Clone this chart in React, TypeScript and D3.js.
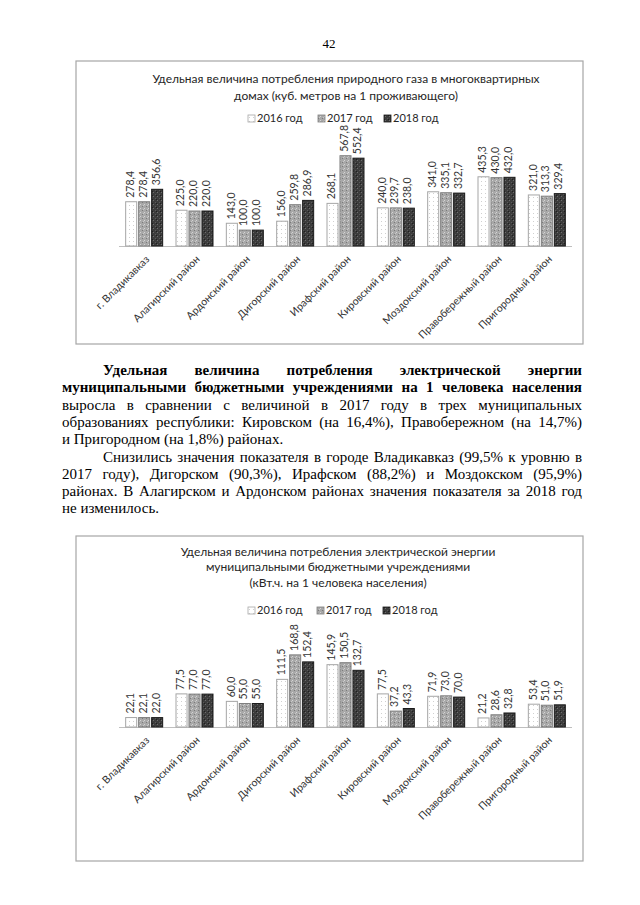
import React from "react";
import * as d3 from "d3";

const categories = [
  "г. Владикавказ",
  "Алагирский район",
  "Ардонский район",
  "Дигорский район",
  "Ирафский район",
  "Кировский район",
  "Моздокский район",
  "Правобережный район",
  "Пригородный район",
];
const seriesNames = ["2016 год", "2017 год", "2018 год"];

const gas2016 = [278.4, 225.0, 143.0, 156.0, 268.1, 240.0, 341.0, 435.3, 321.0];
const gas2017 = [278.4, 220.0, 100.0, 259.8, 567.8, 239.7, 335.1, 430.0, 313.3];
const gas2018 = [356.6, 220.0, 100.0, 286.9, 552.4, 238.0, 332.7, 432.0, 329.4];

const el2016 = [22.1, 77.5, 60.0, 111.5, 145.9, 77.5, 71.9, 21.2, 53.4];
const el2017 = [22.1, 77.0, 55.0, 168.8, 150.5, 37.2, 73.0, 28.6, 51.0];
const el2018 = [22.0, 77.0, 55.0, 152.4, 132.7, 43.3, 70.0, 32.8, 51.9];

const gasTitle = [
  "Удельная величина потребления природного газа в многоквартирных",
  "домах (куб. метров на 1 проживающего)",
];
const elTitle = [
  "Удельная величина потребления электрической энергии",
  "муниципальными бюджетными учреждениями",
  "(кВт.ч. на 1 человека населения)",
];

const paragraphLines: { text: string; bold: boolean; indent: boolean; justify: boolean }[] = [
  { text: "Удельная величина потребления электрической энергии", bold: true, indent: true, justify: true },
  { text: "муниципальными бюджетными учреждениями на 1 человека населения", bold: true, indent: false, justify: true },
  { text: "выросла в сравнении с величиной в 2017 году в трех муниципальных", bold: false, indent: false, justify: true },
  { text: "образованиях республики: Кировском (на 16,4%), Правобережном (на 14,7%)", bold: false, indent: false, justify: true },
  { text: "и Пригородном (на 1,8%) районах.", bold: false, indent: false, justify: false },
  { text: "Снизились значения показателя в городе Владикавказ (99,5% к уровню в", bold: false, indent: true, justify: true },
  { text: "2017 году), Дигорском (90,3%), Ирафском (88,2%) и Моздокском (95,9%)", bold: false, indent: false, justify: true },
  { text: "районах. В Алагирском и Ардонском районах значения показателя за 2018 год", bold: false, indent: false, justify: true },
  { text: "не изменилось.", bold: false, indent: false, justify: false },
];

const FONT = "Lato, 'Open Sans', sans-serif";
const SERIF = '"Liberation Serif", "Times New Roman", Times, serif';
const fills = ["url(#p2016)", "url(#p2017)", "url(#p2018)"];
const strokes = ["#a6a6a6", "#7f7f7f", "#1a1a1a"];
const fmt = (v: number) => d3.format(".1f")(v).replace(".", ",");

let ctx: CanvasRenderingContext2D | null = null;
function measure(text: string, font: string) {
  if (!ctx) {
    const c = document.createElement("canvas");
    ctx = c.getContext("2d");
  }
  if (!ctx) return text.length * 7;
  ctx.font = font;
  return ctx.measureText(text).width;
}

function JustifiedLine({ text, x, width, y, bold, justify, size }: any) {
  const font = `${bold ? "bold " : ""}${size}px ${SERIF}`;
  const words = text.split(" ");
  const widths = words.map((w: string) => measure(w, font));
  const total = widths.reduce((a: number, b: number) => a + b, 0);
  const space = measure(" ", font);
  const gap = justify && words.length > 1 ? (width - total) / (words.length - 1) : space;
  let cx = x;
  const xs = widths.map((w: number) => {
    const p = cx;
    cx += w + gap;
    return p;
  });
  return (
    <text y={y} style={{ fontFamily: SERIF }} fontSize={size} fontWeight={bold ? "bold" : "normal"} fill="#000">
      {words.map((w: string, i: number) => (
        <tspan key={i} x={xs[i]}>
          {w}
        </tspan>
      ))}
    </text>
  );
}

function Chart({ frame, title, titleCx, titleYs, legendY, legendXs, baseline, yMax, yPx, series }: any) {
  const x0 = d3.scaleBand<string>().domain(categories).range([119, 572]).paddingInner(0.265).paddingOuter(0.1325);
  const x1 = d3.scaleBand<string>().domain(seriesNames).range([0, x0.bandwidth()]).paddingInner(0.15);
  const y = d3.scaleLinear().domain([0, yMax]).range([baseline, baseline - yPx]);
  return (
    <g>
      <rect x={frame.x} y={frame.y} width={frame.w} height={frame.h} fill="#fff" stroke="#a6a6a6" strokeWidth={1.2} />
      {title.map((t: string, i: number) => (
        <text key={i} x={titleCx} y={titleYs[i]} textAnchor="middle" dominantBaseline="middle" fontFamily={FONT} fontSize={12} fill="#262626">
          {t}
        </text>
      ))}
      {seriesNames.map((s, i) => (
        <g key={s}>
          <rect x={legendXs[i]} y={legendY - 4} width={7} height={7} fill={fills[i]} stroke={strokes[i]} strokeWidth={0.8} />
          <text x={legendXs[i] + 9} y={legendY} dominantBaseline="middle" fontFamily={FONT} fontSize={11} fill="#262626">
            {s}
          </text>
        </g>
      ))}
      <line x1={119} x2={572} y1={baseline + 0.5} y2={baseline + 0.5} stroke="#bfbfbf" strokeWidth={1} />
      {categories.map((c, ci) => (
        <g key={c}>
          {series.map((vals: number[], si: number) => {
            const bx = (x0(c) as number) + (x1(seriesNames[si]) as number);
            const v = vals[ci];
            const top = y(v);
            const cx = bx + x1.bandwidth() / 2;
            return (
              <g key={si}>
                <rect x={bx} y={top} width={x1.bandwidth()} height={baseline - top} fill={fills[si]} stroke={strokes[si]} strokeWidth={1} />
                <text
                  transform={`translate(${cx},${top - 4}) rotate(-90)`}
                  dominantBaseline="middle"
                  fontFamily={FONT}
                  fontSize={10.5}
                  fill="#333"
                >
                  {fmt(v)}
                </text>
              </g>
            );
          })}
          <text
            transform={`translate(${(x0(c) as number) + x0.bandwidth() / 2 + 4},${baseline + 12}) rotate(-45)`}
            textAnchor="end"
            dominantBaseline="middle"
            fontFamily={FONT}
            fontSize={10.5}
            fill="#333"
          >
            {c}
          </text>
        </g>
      ))}
    </g>
  );
}

export default function App() {
  return (
    <svg width={640} height={905} style={{ position: "absolute", left: 0, top: 0, background: "#fff" }}>
      <defs>
        <pattern id="p2016" width={4} height={4} patternUnits="userSpaceOnUse">
          <rect width={4} height={4} fill="#fff" />
          <rect x={1} y={1} width={1} height={1} fill="#d0d0d0" />
        </pattern>
        <pattern id="p2017" width={4} height={4} patternUnits="userSpaceOnUse">
          <rect width={4} height={4} fill="#a8a8a8" />
          <rect x={0} y={0} width={1} height={1} fill="#d4d4d4" />
          <rect x={2} y={2} width={1} height={1} fill="#7a7a7a" />
          <rect x={3} y={1} width={1} height={1} fill="#c8c8c8" />
        </pattern>
        <pattern id="p2018" width={4} height={4} patternUnits="userSpaceOnUse">
          <rect width={4} height={4} fill="#3c3c3c" />
          <rect x={1} y={0} width={1} height={1} fill="#6e6e6e" />
          <rect x={3} y={2} width={1} height={1} fill="#5a5a5a" />
          <rect x={0} y={3} width={1} height={1} fill="#1e1e1e" />
        </pattern>
      </defs>
      <rect width={640} height={905} fill="#fff" />
      <text x={329} y={48} textAnchor="middle" style={{ fontFamily: SERIF }} fontSize={13} fill="#000">
        42
      </text>
      <Chart
        frame={{ x: 76, y: 61, w: 507, h: 283 }}
        title={gasTitle}
        titleCx={346}
        titleYs={[80, 97]}
        legendY={119}
        legendXs={[248, 318, 384]}
        baseline={246}
        yMax={600}
        yPx={95.4}
        series={[gas2016, gas2017, gas2018]}
      />
      {paragraphLines.map((l, i) => (
        <JustifiedLine
          key={i}
          text={l.text}
          x={l.indent ? 103 : 62}
          width={l.indent ? 582 - 103 : 582 - 62}
          y={375 + i * 17.3}
          bold={l.bold}
          justify={l.justify}
          size={15}
        />
      ))}
      <Chart
        frame={{ x: 76, y: 536, w: 507, h: 325 }}
        title={elTitle}
        titleCx={338}
        titleYs={[553, 568, 584]}
        legendY={611}
        legendXs={[248, 317, 383]}
        baseline={727}
        yMax={180}
        yPx={76.9}
        series={[el2016, el2017, el2018]}
      />
    </svg>
  );
}
